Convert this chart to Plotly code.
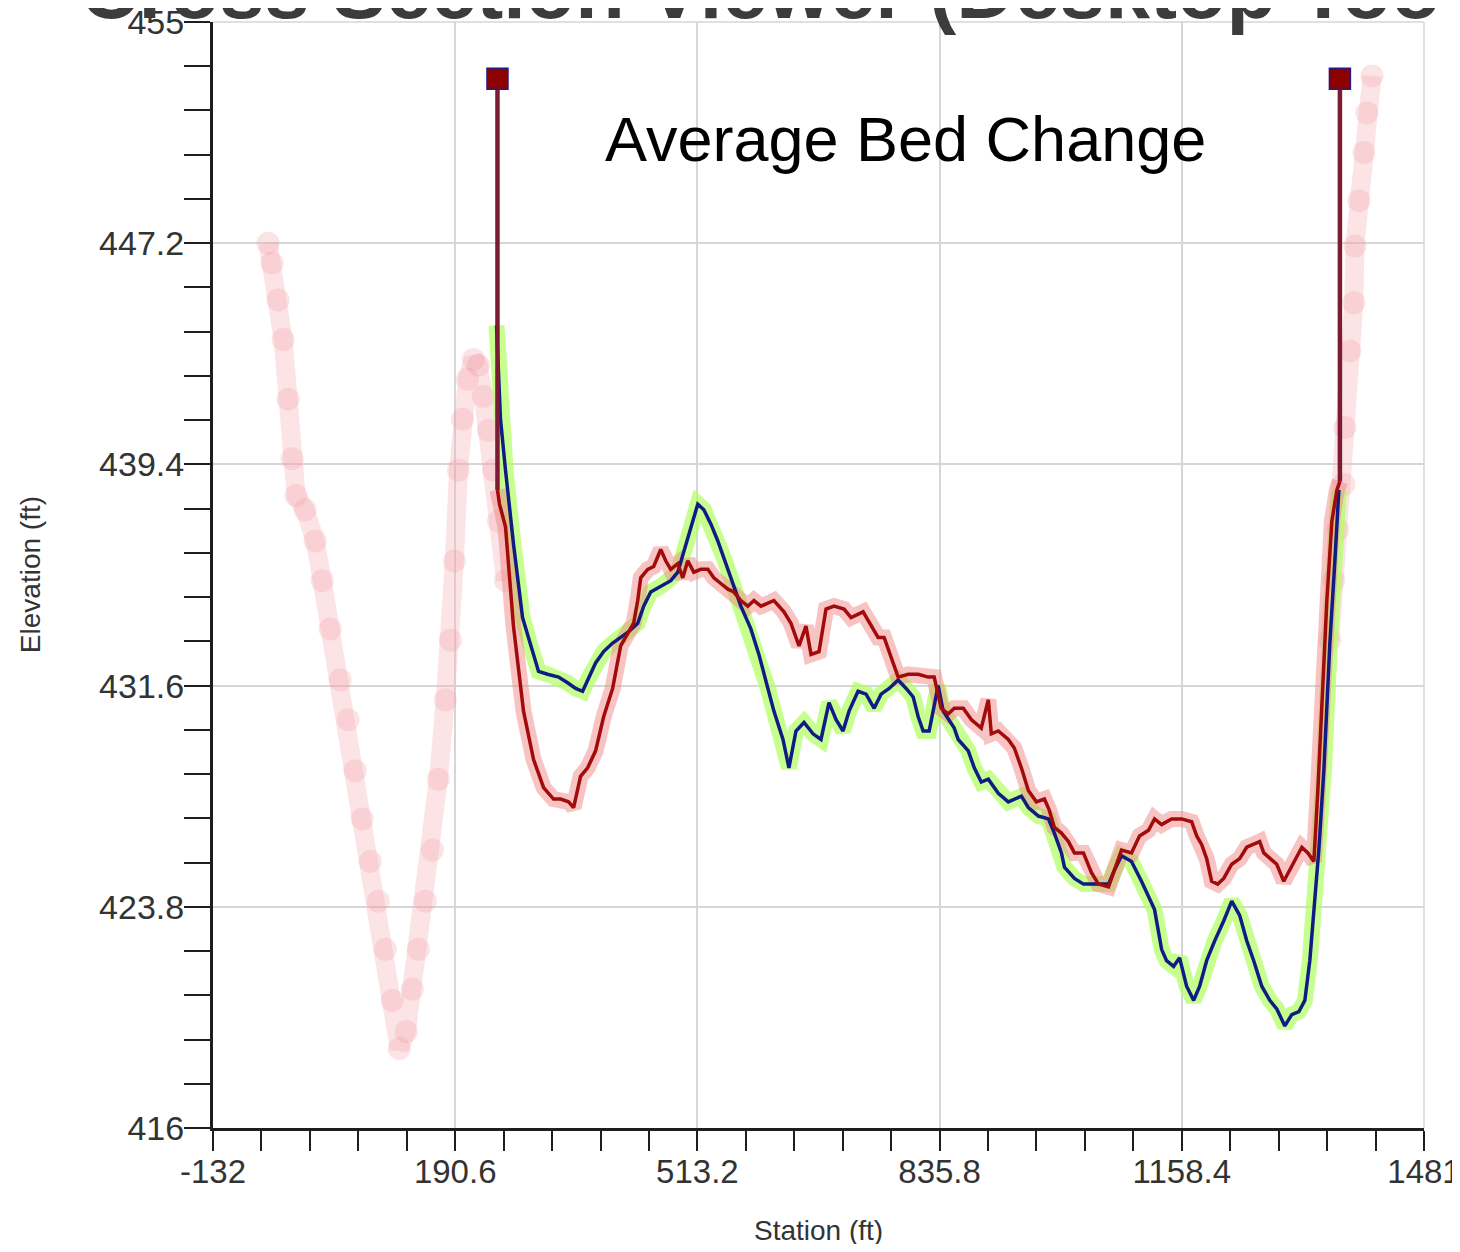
import plotly.graph_objects as go

# ---------------- data (station ft, elevation ft) ----------------
terrain_station = [-58.6, -53.3, -45.3, -38.6, -32.0, -26.6, -21.3, -9.3, 4.1, 13.4, 24.1, 37.4, 48.1,
                   57.4, 66.8, 77.5, 88.1, 97.5, 106.8, 116.1, 125.5, 133.5, 141.5, 150.8, 160.2, 168.2,
                   177.5, 184.2, 189.5, 194.9, 200.2, 206.9, 214.9, 221.5, 228.2, 234.9, 241.6, 248.2, 257.6,
                   None,
                   1355.6, 1360.9, 1366.3, 1374.3, 1375.6, 1382.3, 1387.6, 1389.0, 1394.3, 1401.0, 1405.0, 1411.7]
terrain_elev = [447.2, 446.5, 445.2, 443.8, 441.7, 439.6, 438.3, 437.8, 436.7, 435.3, 433.6, 431.8, 430.4,
                428.6, 426.9, 425.4, 424.0, 422.3, 420.5, 418.8, 419.4, 420.9, 422.3, 424.0, 425.8, 428.3,
                431.1, 433.2, 436.0, 439.2, 441.0, 442.4, 443.1, 442.9, 441.8, 440.6, 439.2, 437.4, 435.3,
                None,
                433.2, 435.3, 437.1, 438.7, 440.7, 443.4, 445.1, 447.1, 448.7, 450.4, 451.8, 453.1]

initial_station = [245.6, 250.9, 257.6, 268.2, 280.3, 290.9, 301.6, 313.6, 328.3, 340.3,
                   351.0, 360.3, 367.0, 377.6, 388.3, 400.3, 411.0, 421.7, 433.7, 441.7,
                   451.0, 464.4, 477.7, 487.1, 495.1, 504.4, 513.7, 521.8, 531.1, 540.4,
                   548.4, 557.8, 571.1, 584.4, 595.1, 607.1, 615.1, 627.2, 635.1, 644.5,
                   655.2, 667.2, 677.8, 688.5, 697.9, 707.2, 715.2, 727.2, 737.9, 748.6,
                   757.9, 768.6, 780.6, 791.2, 800.6, 807.3, 813.9, 821.9, 828.6, 833.9,
                   840.6, 855.3, 860.6, 874.0, 882.0, 891.3, 900.7, 914.0, 927.3, 935.3,
                   944.7, 954.0, 967.4, 980.7, 988.7, 998.1, 1002.1, 1015.4, 1027.4, 1038.1,
                   1047.4, 1060.8, 1068.8, 1078.1, 1091.4, 1104.7, 1122.1, 1131.5, 1138.1, 1147.5,
                   1155.5, 1164.8, 1174.2, 1182.2, 1191.5, 1202.2, 1214.2, 1224.9, 1235.5, 1244.9,
                   1254.2, 1264.9, 1275.6, 1284.9, 1295.6, 1304.9, 1314.3, 1322.3, 1328.9, 1335.6,
                   1340.9, 1347.6, 1355.6, 1362.3, 1367.6]
initial_elev = [444.3, 441.0, 439.2, 436.6, 434.0, 433.0, 432.1, 432.0, 431.9, 431.7,
                431.5, 431.4, 431.8, 432.4, 432.8, 433.1, 433.3, 433.5, 433.8, 434.4,
                434.9, 435.1, 435.3, 435.6, 436.3, 437.2, 438.0, 437.8, 437.3, 436.7,
                436.1, 435.4, 434.4, 433.6, 432.7, 431.5, 430.7, 429.7, 428.7, 430.0,
                430.3, 429.9, 429.7, 431.0, 430.4, 430.0, 430.7, 431.4, 431.3, 430.8,
                431.3, 431.5, 431.8, 431.5, 431.2, 430.5, 430.0, 430.0, 430.9, 431.6,
                430.7, 430.1, 429.7, 429.3, 428.7, 428.2, 428.3, 427.8, 427.5, 427.6,
                427.7, 427.3, 427.0, 426.9, 426.4, 425.7, 425.2, 424.8, 424.6, 424.6,
                424.6, 424.6, 425.1, 425.6, 425.4, 424.7, 423.7, 422.3, 421.9, 421.7,
                422.0, 421.0, 420.5, 421.0, 421.9, 422.6, 423.3, 424.0, 423.5, 422.6,
                421.9, 421.0, 420.5, 420.2, 419.6, 420.0, 420.1, 420.5, 421.9, 424.0,
                425.8, 428.6, 433.1, 436.0, 438.5]

final_station = [246.9, 249.6, 257.6, 268.2, 281.6, 294.9, 308.3, 321.6, 331.0, 341.6,
                 348.3, 357.6, 367.0, 377.6, 388.3, 400.3, 411.0, 420.3, 428.3, 433.7,
                 437.7, 447.0, 455.0, 464.4, 471.0, 477.7, 487.1, 493.7, 500.4, 508.4,
                 517.7, 527.1, 535.1, 544.4, 553.8, 561.8, 571.1, 580.4, 588.5, 597.8,
                 607.1, 615.1, 628.5, 637.8, 648.5, 657.8, 664.5, 675.2, 684.5, 695.2,
                 708.5, 717.9, 733.9, 744.6, 753.9, 761.9, 771.2, 780.6, 793.9, 807.3,
                 820.6, 828.6, 837.9, 847.3, 855.3, 867.3, 878.0, 891.3, 900.7, 904.7,
                 914.0, 927.3, 935.3, 944.7, 954.0, 964.7, 975.4, 982.0, 988.7, 998.1,
                 1007.4, 1015.4, 1027.4, 1038.1, 1047.4, 1060.8, 1068.8, 1078.1, 1091.4, 1102.1,
                 1114.1, 1122.1, 1131.5, 1144.8, 1158.2, 1171.5, 1178.2, 1184.8, 1191.5, 1198.2,
                 1206.2, 1214.2, 1224.9, 1235.5, 1244.9, 1254.2, 1262.2, 1267.6, 1275.6, 1284.9,
                 1294.2, 1302.2, 1311.6, 1318.3, 1326.3, 1334.3, 1339.6, 1344.9, 1351.6, 1358.3,
                 1365.0, 1369.0]
final_elev = [438.5, 438.0, 437.2, 433.7, 430.7, 429.0, 428.0, 427.6, 427.6, 427.5,
              427.3, 428.4, 428.7, 429.3, 430.5, 431.5, 433.0, 433.4, 433.8, 434.6,
              435.4, 435.7, 435.8, 436.4, 436.0, 435.7, 435.9, 435.4, 436.0, 435.6,
              435.7, 435.7, 435.4, 435.2, 435.0, 434.9, 434.6, 434.4, 434.6, 434.4,
              434.5, 434.6, 434.2, 433.8, 433.0, 433.7, 432.7, 432.8, 434.3, 434.4,
              434.3, 434.0, 434.2, 433.7, 433.3, 433.3, 432.6, 431.9, 432.0, 432.0,
              431.9, 431.9, 430.8, 430.6, 430.8, 430.8, 430.4, 430.1, 431.1, 429.9,
              430.0, 429.7, 429.4, 428.7, 427.9, 427.5, 427.6, 427.2, 426.6, 426.4,
              426.1, 425.7, 425.7, 425.0, 424.6, 424.5, 425.1, 425.8, 425.7, 426.3,
              426.5, 426.9, 426.7, 426.9, 426.9, 426.8, 426.3, 426.0, 425.5, 424.7,
              424.6, 424.8, 425.3, 425.5, 425.9, 426.0, 426.1, 425.7, 425.5, 425.3,
              424.7, 425.1, 425.6, 425.9, 425.7, 425.4, 427.9, 431.1, 434.6, 437.4,
              438.5, 438.8]

bank_station = [246.9, 246.9, None, 1369.0, 1369.0]
bank_elev = [453.0, 438.5, None, 453.0, 438.8]
bank_top_station = [246.9, 1369.0]
bank_top_elev = [453.0, 453.0]

x_tickvals = [-132, 190.6, 513.2, 835.8, 1158.4, 1481]
x_ticktext = ["-132", "190.6", "513.2", "835.8", "1158.4", "1481"]
y_tickvals = [416, 423.8, 431.6, 439.4, 447.2, 455]
y_ticktext = ["416", "423.8", "431.6", "439.4", "447.2", "455"]

fig = go.Figure()

# original terrain (faint pink dotted band)
fig.add_trace(go.Scatter(
    x=terrain_station, y=terrain_elev, mode="lines+markers",
    line=dict(color="rgba(247,185,190,0.38)", width=19),
    marker=dict(size=23, color="rgba(238,150,160,0.26)", line=dict(width=0)),
    connectgaps=False, hoverinfo="skip"))

# halos
fig.add_trace(go.Scatter(x=initial_station, y=initial_elev, mode="lines",
                         line=dict(color="rgba(178,255,100,0.72)", width=16), hoverinfo="skip"))
fig.add_trace(go.Scatter(x=final_station, y=final_elev, mode="lines",
                         line=dict(color="rgba(240,135,135,0.50)", width=16), hoverinfo="skip"))
# lines
fig.add_trace(go.Scatter(x=initial_station, y=initial_elev, mode="lines",
                         line=dict(color="#101c84", width=3.5)))
fig.add_trace(go.Scatter(x=final_station, y=final_elev, mode="lines",
                         line=dict(color="#a30a0a", width=3.5)))

# bank stations
fig.add_trace(go.Scatter(x=bank_station, y=bank_elev, mode="lines",
                         line=dict(color="#7c1c34", width=4.5), connectgaps=False))
fig.add_trace(go.Scatter(x=bank_top_station, y=bank_top_elev, mode="markers",
                         marker=dict(symbol="square", size=21, color="#8c0000",
                                     line=dict(color="#2a1a80", width=1.5))))

axis_common = dict(showgrid=True, gridcolor="#d6d6d6", gridwidth=1.5, zeroline=False,
                   showline=True, linecolor="#1e1e1e", linewidth=3,
                   ticks="outside", tickwidth=2, tickcolor="#1e1e1e",
                   ticklabeloverflow="allow", automargin=False)

fig.update_layout(
    width=1444, height=1236,
    margin=dict(l=205, r=28, t=14, b=116),
    paper_bgcolor="white", plot_bgcolor="white",
    showlegend=False,
    xaxis=dict(range=[-132, 1481], tickvals=x_tickvals, ticktext=x_ticktext, ticklen=20,
               ticklabelstandoff=-8,
               tickfont=dict(family="Liberation Sans, Arial", size=33, color="#333333"),
               minor=dict(ticks="outside", dtick=64.52, tick0=-132, ticklen=20, tickwidth=2,
                          tickcolor="#1e1e1e", showgrid=False),
               **axis_common),
    yaxis=dict(range=[416, 455], tickvals=y_tickvals, ticktext=y_ticktext, ticklen=26,
               ticklabelstandoff=-7,
               tickfont=dict(family="Liberation Sans, Arial", size=34, color="#333333"),
               minor=dict(ticks="outside", dtick=1.56, tick0=416, ticklen=26, tickwidth=2,
                          tickcolor="#1e1e1e", showgrid=False),
               **axis_common),
    shapes=[
        dict(type="line", xref="paper", yref="paper", x0=0, x1=1, y0=1, y1=1,
             line=dict(color="#d6d6d6", width=1.5), layer="below"),
        dict(type="line", xref="paper", yref="paper", x0=1, x1=1, y0=0, y1=1,
             line=dict(color="#d6d6d6", width=1.5), layer="below"),
    ],
    annotations=[
        dict(text="<b>Cross Section Viewer (Desktop Too</b>", xref="paper", yref="paper",
             x=-0.1115, y=1.029, xanchor="left", yanchor="middle", showarrow=False,
             font=dict(family="Liberation Sans, Arial", size=81, color="#3c3c3c")),
        dict(text="Average Bed Change", xref="paper", yref="paper",
             x=0.572, y=0.8945, xanchor="center", yanchor="middle", showarrow=False,
             font=dict(family="Liberation Sans, Arial", size=63, color="black")),
        dict(text="Elevation (ft)", xref="paper", yref="paper", textangle=-90,
             x=-0.151, y=0.5, xanchor="center", yanchor="middle", showarrow=False,
             font=dict(family="Liberation Sans, Arial", size=28, color="#333333")),
        dict(text="Station (ft)", xref="paper", yref="paper",
             x=0.5, y=-0.0931, xanchor="center", yanchor="middle", showarrow=False,
             font=dict(family="Liberation Sans, Arial", size=28, color="#333333")),
    ],
)

fig.write_html("out.html", config={"displayModeBar": False})
